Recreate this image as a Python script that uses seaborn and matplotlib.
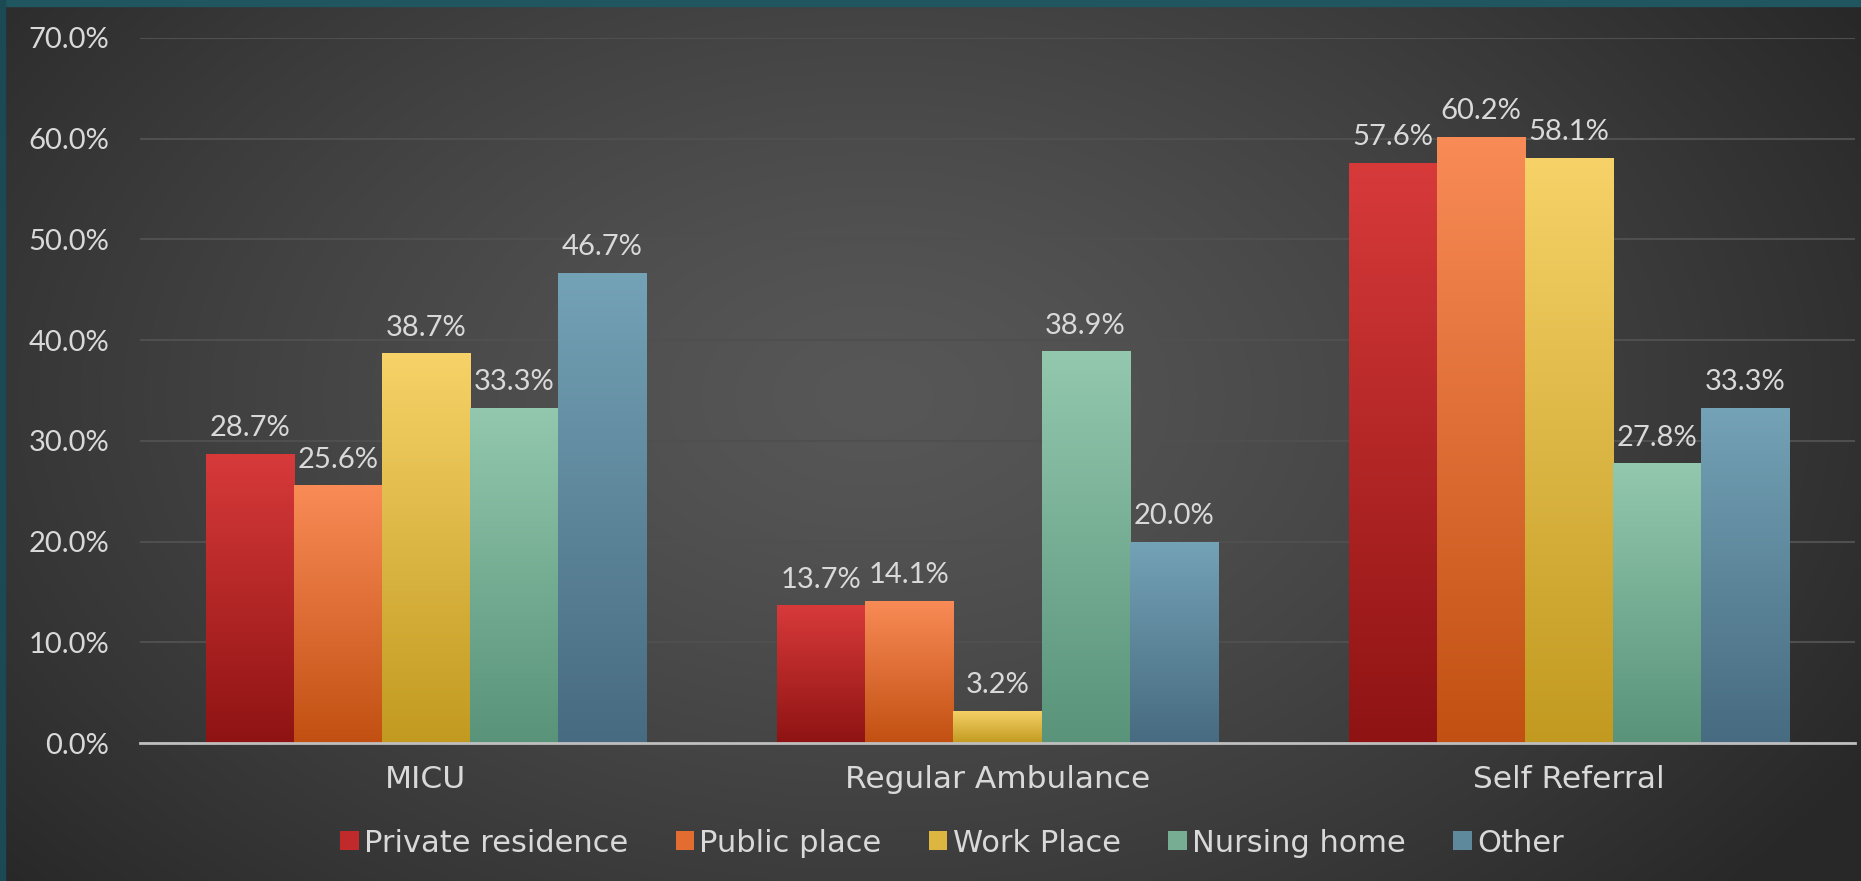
import numpy as np
import pandas as pd
import matplotlib
matplotlib.use("Agg")
import matplotlib.pyplot as plt
import seaborn as sns
from matplotlib.colors import LinearSegmentedColormap, to_rgb
from matplotlib.patches import Patch, Rectangle
from matplotlib.ticker import FuncFormatter, FixedLocator

# ---------------- data ----------------
categories = ["MICU", "Regular Ambulance", "Self Referral"]
series = ["Private residence", "Public place", "Work Place", "Nursing home", "Other"]
private_residence = [28.7, 13.7, 57.6]
public_place = [25.6, 14.1, 60.2]
work_place = [38.7, 3.2, 58.1]
nursing_home = [33.3, 38.9, 27.8]
other = [46.7, 20.0, 33.3]
y_ticks = [0, 10, 20, 30, 40, 50, 60, 70]

values = [private_residence, public_place, work_place, nursing_home, other]
rows = []
for s, vals in zip(series, values):
    for c, v in zip(categories, vals):
        rows.append({"category": c, "series": s, "value": v})
df = pd.DataFrame(rows)

# ---------------- style ----------------
top_colors = ["#d83a3a", "#f98b57", "#f6d268", "#93c8ae", "#74a2b6"]
bot_colors = ["#8f1313", "#c25012", "#c29a20", "#58937a", "#476b80"]
mid_colors = ["#c02a2a", "#e36c30", "#dcb640", "#76ad93", "#5e889c"]
text_color = "#d9d9d9"

sns.set_theme(style="dark")
plt.rcParams["font.family"] = ["Lato", "DejaVu Sans"]
plt.rcParams["text.color"] = text_color

W, H = 1861, 881
fig = plt.figure(figsize=(W / 100, H / 100), dpi=100)
fig.patch.set_facecolor("#333333")

# background radial gradient
bg = fig.add_axes([0, 0, 1, 1], zorder=-10)
gx, gy = np.meshgrid(np.linspace(0, 1, 400), np.linspace(0, 1, 200))
r = np.sqrt(((gx - 0.47) / 0.62) ** 2 + ((gy - 0.55) / 0.85) ** 2)
r = np.clip(r, 0, 1)
c_center = np.array(to_rgb("#575757"))
c_edge = np.array(to_rgb("#282828"))
img = c_center[None, None, :] * (1 - r[..., None] ** 1.3) + c_edge[None, None, :] * (r[..., None] ** 1.3)
bg.imshow(img, extent=[0, 1, 0, 1], aspect="auto", origin="lower", interpolation="bilinear")
bg.axis("off")

# teal slide edges
fig.patches.append(Rectangle((0, 1 - 6 / H), 1, 6 / H, transform=fig.transFigure,
                             color="#1f5660", zorder=5))
fig.patches.append(Rectangle((0, 0), 5 / W, 1, transform=fig.transFigure,
                             color="#1b4a55", zorder=5))

ax = fig.add_axes([140 / W, 1 - 743 / H, (1855 - 140) / W, (743 - 38) / H])
ax.set_facecolor("none")

sns.barplot(data=df, x="category", y="value", hue="series", order=categories,
            hue_order=series, palette=mid_colors, width=0.77, saturation=1,
            ax=ax, legend=False, linewidth=0)

# gradient fill per bar
grad = np.linspace(0, 1, 256).reshape(-1, 1)
for container, top, bot in zip(ax.containers, top_colors, bot_colors):
    cmap = LinearSegmentedColormap.from_list("g", [bot, top])
    for bar in container:
        x, w, h = bar.get_x(), bar.get_width(), bar.get_height()
        im = ax.imshow(grad, cmap=cmap, extent=[x, x + w, 0, h], origin="lower",
                       aspect="auto", zorder=bar.get_zorder() + 0.1, interpolation="bilinear")
        im.set_clip_path(bar)
    ax.bar_label(container, labels=[f"{b.get_height():.1f}%" for b in container],
                 padding=9, fontsize=21, color=text_color, zorder=10)

ax.set_xlim(-0.5, 2.5)
ax.set_ylim(0, 70)
ax.set_yticks(y_ticks)
ax.yaxis.set_major_formatter(FuncFormatter(lambda v, p: f"{v:.1f}%"))
ax.tick_params(axis="y", length=0, pad=22, labelsize=21, labelcolor=text_color)
ax.tick_params(axis="x", which="major", length=0, pad=16, labelsize=21, labelcolor=text_color)
for lab in ax.get_xticklabels():
    lab.set_fontfamily(["DejaVu Sans"])
    lab.set_fontsize(22.5)
ax.xaxis.set_minor_locator(FixedLocator([-0.5, 0.5, 1.5, 2.5]))
ax.tick_params(axis="x", which="minor", length=8, width=2, color="#bfbfbf", direction="out")
ax.set_xlabel("")
ax.set_ylabel("")

ax.grid(axis="y", color="#4f4f4f", linewidth=1.5)
ax.grid(axis="x", visible=False)
ax.set_axisbelow(True)
for side in ["top", "right", "left"]:
    ax.spines[side].set_visible(False)
ax.spines["bottom"].set_color("#bfbfbf")
ax.spines["bottom"].set_linewidth(2)
ax.spines["bottom"].set_zorder(12)

handles = [Patch(facecolor=c, edgecolor="none") for c in mid_colors]
fig.legend(handles, series, loc="center", bbox_to_anchor=(952 / W, 1 - 843 / H),
           ncol=5, frameon=False, labelcolor=text_color,
           prop={"family": ["DejaVu Sans"], "size": 22},
           handlelength=0.6, handleheight=0.6, handletextpad=0.18, columnspacing=1.55)

fig.savefig("out.png", dpi=100, facecolor=fig.get_facecolor())
